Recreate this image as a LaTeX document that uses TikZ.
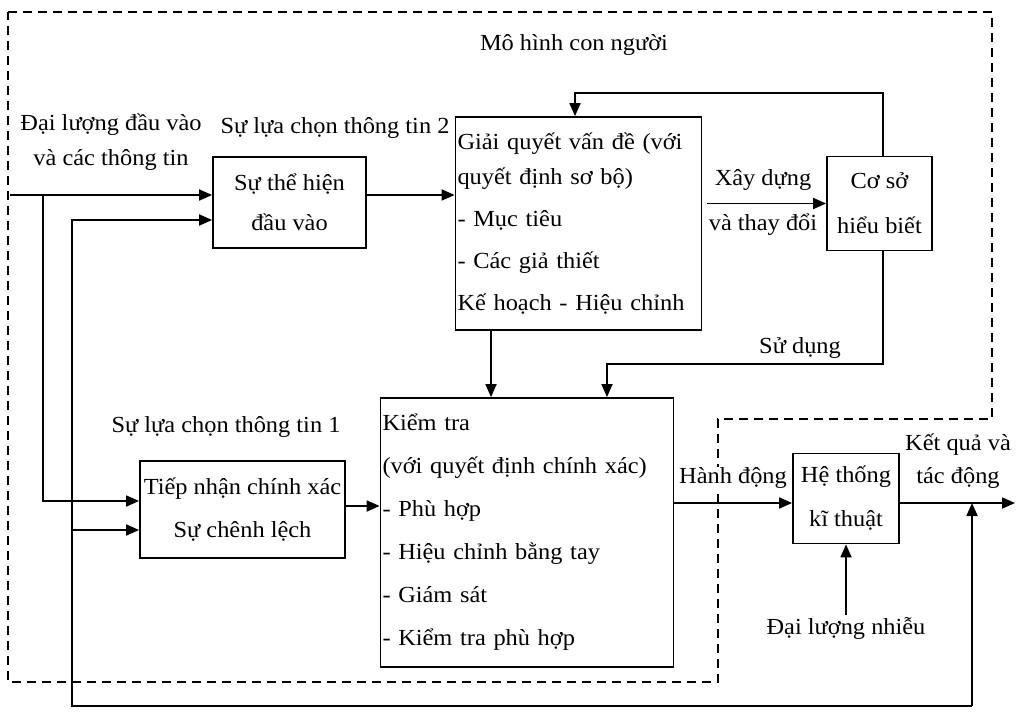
\documentclass[tikz,border=0pt]{standalone}
\usepackage{fontspec}
\setmainfont{Liberation Serif}[FakeStretch=1.06]
\usetikzlibrary{arrows.meta,calc}
\begin{document}
\begin{tikzpicture}[x=1pt,y=-1pt,
  font=\fontsize{23}{28}\selectfont,
  line width=1.8pt,
  box/.style={draw, line width=1.8pt, inner sep=2pt},
  arr/.style={-{Triangle[length=13pt,width=11pt]}, line width=1.8pt},
  lbl/.style={inner sep=1pt, align=center},
  bound/.style={line width=1.4pt, dash pattern=on 9pt off 6pt}]
\useasboundingbox (0,0) rectangle (1025,712);

% dashed boundary of the human model
\draw[bound] (8,12) -- (992,12) -- (992,419) -- (718,419) -- (718,682) -- (8,682) -- cycle;

% labels
\node[lbl] (title) at (574,45) {Mô hình con người};
\node[lbl, font=\fontsize{23}{35}\selectfont] (inlbl) at (111,142) {Đại lượng đầu vào\\và các thông tin};
\node[lbl] (sel2) at (335,128) {Sự lựa chọn thông tin 2};
\node[lbl, font=\fontsize{23}{45}\selectfont] (xd) at (763,202) {Xây dựng\\và thay đổi};
\node[lbl] (sd) at (800,348) {Sử dụng};
\node[lbl] (sel1) at (226,427) {Sự lựa chọn thông tin 1};
\node[lbl, fill=white] (hd) at (733,478) {Hành động};
\node[lbl, font=\fontsize{23}{33}\selectfont] (kq) at (958,461) {Kết quả và\\tác động};
\node[lbl] (nhieu) at (846,628) {Đại lượng nhiễu};

% boxes
\node[box, minimum width=153pt, minimum height=91pt, align=center,
      font=\fontsize{23}{40}\selectfont] (thehien) at (289.5,202.5) {Sự thể hiện\\đầu vào};
\node[box, text width=242pt, minimum height=213pt, align=left,
      font=\fontsize{23}{42}\selectfont] (giai) at (578.5,223.5)
      {Giải quyết vấn đề (với\\[-7pt]quyết định sơ bộ)\\- Mục tiêu\\- Các giả thiết\\Kế hoạch - Hiệu chỉnh};
\node[box, minimum width=105pt, minimum height=94pt, align=center,
      font=\fontsize{23}{45}\selectfont] (coso) at (879.5,203.5) {Cơ sở\\hiểu biết};
\node[box, text width=289pt, minimum height=269pt, align=left,
      font=\fontsize{23}{43}\selectfont] (kiem) at (527,532.5)
      {Kiểm tra\\(với quyết định chính xác)\\- Phù hợp\\- Hiệu chỉnh bằng tay\\- Giám sát\\- Kiểm tra phù hợp};
\node[box, minimum width=205pt, minimum height=97pt, align=center, inner sep=0pt,
      font=\fontsize{23}{43}\selectfont] (tiep) at (242.5,509.5) {Tiếp nhận chính xác\\Sự chênh lệch};
\node[box, minimum width=106pt, minimum height=90pt, align=center,
      font=\fontsize{23}{44}\selectfont] (hethong) at (846,498.5) {Hệ thống\\kĩ thuật};

% coordinates
\coordinate (in0) at (10,195);
\coordinate (j1) at (43,195);
\coordinate (t1) at ($(tiep.west)+(0,-8.5)$);
\coordinate (t2) at ($(tiep.west)+(0,20.5)$);
\coordinate (s2) at ($(thehien.west)+(0,17.5)$);
\coordinate (s3) at ($(thehien.east)+(0,-7.5)$);
\coordinate (c1) at ($(coso.west -| giai.east)+(5,0)$);
\coordinate (top) at (0,93);
\coordinate (sdy) at (0,364);
\coordinate (cn) at ($(coso.north)+(3.5,0)$);
\coordinate (cs) at ($(coso.south)+(3.5,0)$);
\coordinate (gn) at ($(giai.north)+(-3.5,0)$);
\coordinate (gs) at ($(giai.south)+(-87.5,0)$);
\coordinate (kn) at ($(kiem.north)+(80,0)$);
\coordinate (a1) at ($(tiep.east)+(0,-3.5)$);
\coordinate (h1) at ($(hethong.west)+(0,4.5)$);
\coordinate (out) at (1015,503);
\coordinate (fb) at (972,503);
\coordinate (br) at (972,706);
\coordinate (bl) at (72,706);

% connectors
\draw[arr] (in0) -- (in0 -| thehien.west);
\draw[arr] (j1) |- (t1);
\draw[arr] (br) -- (bl) |- (s2);
\draw[arr] (t2 -| bl) -- (t2);
\draw[arr] (br) -- (fb);
\draw[arr] (s3) -- (s3 -| giai.west);
\draw[arr] (c1) -- (coso.west);
\draw[arr] (cn) -- (cn |- top) -| (gn);
\draw[arr] (cs) -- (cs |- sdy) -| (kn);
\draw[arr] (gs) -- (gs |- kiem.north);
\draw[arr] (a1) -- (a1 -| kiem.west);
\draw[arr] (h1 -| kiem.east) -- (h1);
\draw[arr] (h1 -| hethong.east) -- (out);
\draw[arr] (nhieu.north) -- (hethong.south);
\end{tikzpicture}
\end{document}
